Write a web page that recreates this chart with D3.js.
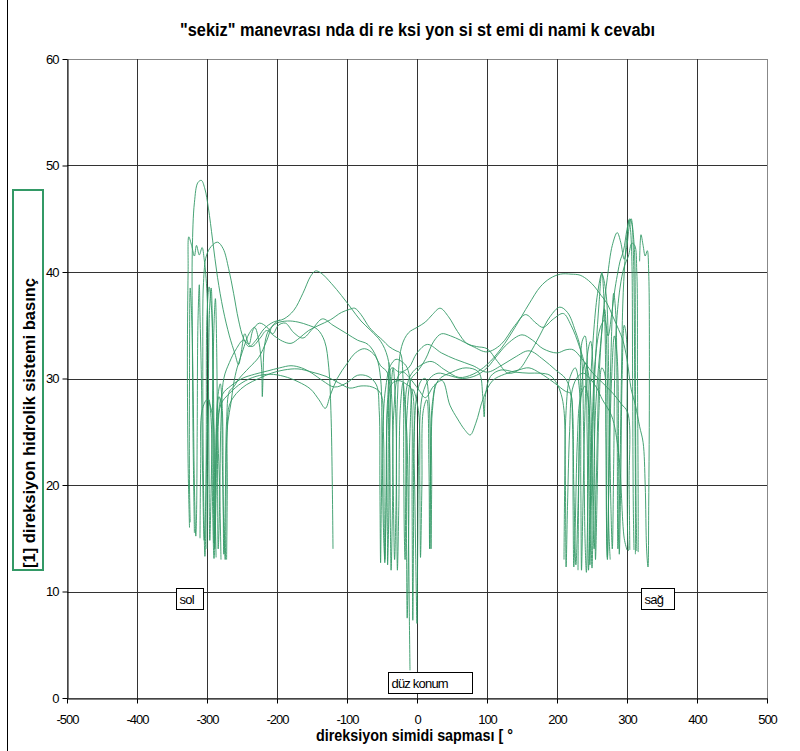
<!DOCTYPE html>
<html>
<head>
<meta charset="utf-8">
<script src="https://cdn.jsdelivr.net/npm/d3@7"></script>
<style>
  body { margin: 0; background: #fff; }
  svg { display: block; font-family: "Liberation Sans", Arial, sans-serif; }
  .tick text { font-size: 13px; letter-spacing: -1px; fill: #000; }
  .run { fill: none; stroke: #339966; stroke-width: 1; stroke-opacity: 0.9; }
</style>
</head>
<body>
<svg width="800" height="751"></svg>
<script>
// tick labels
const xTicks = [-500, -400, -300, -200, -100, 0, 100, 200, 300, 400, 500];
const yTicks = [0, 10, 20, 30, 40, 50, 60];

// measured runs: [steering angle, pressure]
const run1 = [[-318,15.5],[-320,25],[-321,35],[-321,42],[-318,46.5],[-313,48.4],[-308,48.6],[-303,47.8],[-298,46],[-292,43],[-285,39.5],[-277,36.5],[-268,34],[-260,32.3],[-255,31.3],[-251,32.5],[-246,34.2],[-240,33.2],[-234,34.6],[-225,35.2],[-214,34.8],[-206,34.2],[-198,35],[-188,35.2],[-176,34.3],[-163,33.8],[-150,34.6],[-135,35.6],[-120,35],[-100,34.2],[-85,33.6],[-70,33.2],[-58,32],[-52,30],[-50,24],[-48,16],[-46,13],[-44,20],[-42,28],[-36,31],[-25,30.6],[-12,31],[0,32.4],[15,33.2],[35,32.4],[55,31.8],[80,31.2],[100,30.6],[120,31.2],[140,32],[160,32.6],[180,31.8],[198,30.8],[212,30],[220,28.5],[224,20],[227,12.5],[230,18],[234,28],[240,31.5],[246,30],[250,22],[253,14],[256,20],[260,30],[266,36],[272,39.5],[279,42.5],[286,43.7],[291,42.8],[296,41.2],[300,42.5],[303,44.2],[306,45],[309,43.5],[311,41.5],[312,30],[313,18],[314,13.8]];
const run2 = [[-287,13.2],[-289,20],[-291,30],[-293,36],[-297,38.6],[-300,36],[-301,25],[-302,15],[-303,13.3],[-305,20],[-306,32],[-305,39],[-301,41.5],[-294,42.4],[-285,42.8],[-277,42.2],[-269,40.3],[-262,38],[-255,35.5],[-248,33.8],[-240,33],[-230,33.6],[-218,34.7],[-205,35.3],[-190,35.6],[-176,36.4],[-163,38],[-152,39.6],[-145,40.1],[-137,39.9],[-122,38.9],[-108,37.8],[-94,36.6],[-80,35.4],[-66,34.5],[-52,33.5],[-42,32],[-36,28],[-34,20],[-32,13],[-30,18],[-28,28],[-22,33],[-12,34.3],[0,34.8],[12,35.3],[22,36],[33,36.6],[45,35.8],[58,34.4],[71,33.3],[85,33],[100,32.8],[115,31.6],[130,30.5],[145,30.8],[160,32.2],[175,34],[190,35.8],[204,36.7],[215,36.2],[226,34.5],[234,32.6],[238,25],[240,15],[242,11.8],[244,18],[247,28],[252,34],[258,38],[264,39.8],[270,38],[274,30],[277,18],[279,14],[281,22],[284,34],[290,38.5],[296,40.5],[302,41.5],[307,42.7],[311,42.5],[314,40],[315,30],[316,18],[316,13.7]];
const run3 = [[-10,2.6],[-11,8],[-12,15],[-14,24],[-16,28.5],[-10,30.2],[0,31],[20,31.6],[40,30.8],[60,30.1],[80,30.4],[100,31.3],[120,32.8],[140,34.8],[160,37],[176,38.6],[190,39.4],[205,39.8],[220,39.8],[233,39.7],[245,39.2],[254,38.6],[263,37.8],[271,37.1],[280,35.8],[288,34.6],[294,33.6],[300,31.8],[306,29],[312,27.5],[318,25.5],[323,24],[326,20],[328,14],[330,12.3],[331,18],[332,30],[331,40],[329,42],[326,41.5],[323,42.5],[320,43.5],[318,41]];
const run4 = [[-272,13],[-271,20],[-271,25.5],[-268,27.5],[-258,28.6],[-244,29.4],[-226,30],[-208,30.5],[-190,30.8],[-170,30.9],[-150,30.6],[-130,30.2],[-112,29.6],[-96,29.1],[-80,29.3],[-64,29.2],[-52,28.6],[-48,25],[-47,18],[-46,12.7],[-44,18],[-42,27],[-36,29.5],[-26,29.8],[-16,29.5],[-8,29],[-4,22],[-2,14],[0,7],[1,14],[3,24],[8,28.5],[18,30],[30,30.5],[45,30.3],[65,30],[85,30.3],[100,31],[115,32.2],[130,33.3],[150,34.1],[165,33.6],[180,32.8],[200,32.4],[213,32.7],[223,32.7],[235,31.9],[250,30.6],[265,29.6],[280,28.6],[292,27.6],[301,26.8],[303,20],[304,13.9]];
const run5 = [[-280,13],[-282,20],[-284,25.5],[-280,27.6],[-268,28.6],[-250,29.6],[-230,30.2],[-210,30.4],[-190,30.2],[-170,29.7],[-152,29],[-140,28],[-131,27.2],[-124,28.4],[-114,30],[-100,31.4],[-88,32.4],[-75,32.8],[-62,32.3],[-52,31.2],[-42,30.5],[-39,24],[-38,16],[-37,12],[-35,18],[-33,27],[-27,30.2],[-20,30.6],[-10,30],[2,29],[12,28.2],[24,29.3],[36,29.8],[47,27.5],[58,26.2],[68,25.2],[76,24.7],[84,25.8],[95,28.2],[108,29.8],[125,30.4],[145,30.8],[160,31],[176,30.5],[196,29.6],[212,28.8],[219,28.6],[222,26],[223,18],[224,12.3],[226,16],[229,24],[233,28],[240,29.3],[246,27],[248,18],[250,12.2],[252,18],[255,27],[262,33],[268,36.5],[272,30],[274,16],[276,13]];
const run6 = [[-325,16],[-327,22],[-328,32],[-327,40],[-326,43.3],[-322,42.5],[-318,41.5],[-315,42.5],[-311,41.6],[-307,42.3],[-304,41.2],[-300,38],[-298,30],[-297,20],[-296,14.8],[-294,20],[-292,28],[-290,35],[-288,37.5],[-286,32],[-285,22],[-284,14],[-282,18],[-280,26],[-276,30],[-268,31.5],[-258,32.8],[-248,33.6],[-236,33],[-224,33.8],[-215,34.5],[-204,34],[-192,33.5],[-180,33.3],[-168,33.8],[-155,34.5],[-140,35],[-124,35.5],[-108,36.2],[-96,36.5],[-89,36.6],[-80,36],[-68,34.8],[-56,34],[-49,33.6],[-40,33],[-30,32.6],[-24,32.4],[-20,30],[-19,22],[-18,15],[-17,13],[-16,20],[-14,27],[-8,30],[0,30.6],[12,31.8],[24,33.5],[35,34.2],[48,34],[62,33.6],[80,33],[100,32.5],[120,33.2],[140,35],[155,36],[170,35.2],[180,34.8],[195,35.6],[209,36.1],[220,35],[232,33],[240,31],[243,25],[244,16],[245,12],[247,16],[250,25],[255,32],[262,34.8],[268,35.5],[273,34],[278,36],[283,38.5],[287,40],[290,41],[295,42],[300,44],[304,45],[307,44.5],[309,42],[310,39],[311,30],[312,20],[312,13.5]];
const run7 = [[-120,14],[-121,20],[-123,27],[-126,31],[-132,33.5],[-142,34.6],[-155,35],[-170,35.3],[-185,35.4],[-200,35.2],[-212,34.5],[-218,33],[-220,30],[-221,28.3],[-222,31],[-226,33.5],[-232,34.8],[-240,34.2],[-247,33],[-252,32],[-257,31],[-262,29.5],[-266,27.6],[-270,26],[-272,24],[-273,18],[-274,13],[-276,16],[-278,22],[-280,27.6],[-283,28.3],[-286,26],[-288,20],[-289,14],[-290,13.1],[-292,18],[-294,26],[-297,28],[-300,24],[-302,18],[-304,14.8],[-306,20],[-308,30],[-310,36],[-311,38.8],[-313,35],[-314,25],[-315,17],[-316,15.2],[-318,20],[-320,30],[-322,36],[-324,38.5],[-325,30],[-325,20],[-324,16.5]];
const run8 = [[-310,15],[-309,22],[-307,27],[-300,28],[-292,26.5],[-290,20],[-289,14],[-287,19],[-285,25.5],[-278,28.5],[-266,29.3],[-250,30],[-232,30.4],[-214,30.7],[-196,31],[-180,31.2],[-165,31],[-150,30.5],[-135,29.8],[-118,29.2],[-100,29.6],[-85,30.3],[-70,30.2],[-58,29.4],[-54,27],[-53,20],[-52,12.7],[-51,18],[-49,25],[-45,29],[-38,31.2],[-30,31.8],[-22,31.6],[-14,31],[-8,28],[-7,18],[-6,7.3],[-5,15],[-4,25],[0,28.5],[6,29.8],[12,30],[17,28],[19,22],[20,14],[21,20],[22,27],[30,29.8],[50,30.6],[70,31],[88,30.6],[94,28.3],[96,26.4],[98,28.5],[105,30.2],[120,30.8],[140,30.6],[160,30.5],[176,30.5],[190,30.3],[200,29.5],[206,28.5],[210,27],[212,20],[213,12.3],[215,18],[218,25],[222,29],[230,30.2],[238,30.5],[247,30],[256,29.2],[265,28],[278,26.5],[288,23],[296,15],[300,13.9]];
const run9 = [[230,12],[231,20],[233,28],[236,33.5],[240,34],[244,30],[246,20],[247,12.5],[249,18],[252,27],[256,33],[260,37],[264,40],[268,36],[270,25],[271,15],[272,13.2],[274,20],[277,32],[281,38],[284,36],[286,25],[287,14],[289,18],[292,30],[294,37],[297,41],[300,43.5],[303,44.9],[305,44],[307,41],[308,30],[309,18],[310,13.9]];
const run10 = [[-300,14],[-299,22],[-298,30],[-296,37],[-294,38.5],[-292,33],[-291,22],[-290,14.5],[-288,20],[-285,28],[-281,29.5],[-278,27],[-277,20],[-276,13.5],[-274,18],[-272,26],[-268,28.8],[-262,29.2],[-254,30],[-240,31],[-226,32],[-215,33.5],[-206,35],[-196,35.5]];
const run11 = [[210,13],[211,20],[213,27],[218,30],[226,31],[232,29],[234,20],[235,12],[237,18],[240,27],[244,32.5],[248,33.5],[252,30],[254,20],[255,13],[257,18],[260,27],[264,31],[268,30.5],[270,25],[271,15],[272,13],[274,20],[278,30],[282,34],[286,32],[288,22],[289,13.5],[291,20],[293,30],[296,35],[299,34],[300,25],[301,15],[302,13.8]];
const run12 = [[-40,31.5],[-41,24],[-42,12.5],[-40,18],[-38,28],[-34,31],[-30,26],[-29,18],[-28,12],[-26,18],[-24,27],[-20,29.6],[-16,25],[-15,15],[-14,7.5],[-12,15],[-10,25],[-6,29],[2,27],[4,20],[5,13.2],[7,20],[9,27],[14,28],[17,22],[18,14],[19,20],[21,27],[26,29.5]];

const runs = [run1, run2, run3, run4, run5, run6, run7, run8, run9, run10, run11, run12];

// text boxes on the plot
const notes = [
  { label: "sol", x: -344, y: 10.3, w: 27 },
  { label: "sağ", x: 320, y: 10.3, w: 33 },
  { label: "düz konum", x: -41, y: 2.4, w: 84 }
];

const margin = { top: 59, right: 33, bottom: 53, left: 67 },
  width = 800 - margin.left - margin.right,
  height = 751 - margin.top - margin.bottom;

const root = d3.select("svg");

// outer chart frame
root.append("rect")
  .attr("x", 7.5).attr("y", -5)
  .attr("width", 810).attr("height", 770)
  .attr("fill", "none").attr("stroke", "#000");

const svg = root.append("g")
  .attr("transform", `translate(${margin.left},${margin.top})`);

const x = d3.scaleLinear().domain([-500, 500]).range([0, width]);
const y = d3.scaleLinear().domain([0, 60]).range([height, 0]);

// plot frame (top/right grey)
svg.append("rect")
  .attr("x", 0.5).attr("y", 0.5)
  .attr("width", width).attr("height", height)
  .attr("fill", "none").attr("stroke", "#888");

// grid
svg.append("g")
  .selectAll("line")
  .data(xTicks.slice(1, -1))
  .join("line")
  .attr("x1", (d) => Math.round(x(d)) + 0.5)
  .attr("x2", (d) => Math.round(x(d)) + 0.5)
  .attr("y1", 0).attr("y2", height)
  .attr("stroke", "#333");

svg.append("g")
  .selectAll("line")
  .data(yTicks.slice(1, -1))
  .join("line")
  .attr("y1", (d) => Math.round(y(d)) + 0.5)
  .attr("y2", (d) => Math.round(y(d)) + 0.5)
  .attr("x1", 0).attr("x2", width)
  .attr("stroke", "#333");

// data lines
const line = d3.line()
  .x((d) => x(d[0]))
  .y((d) => y(d[1]))
  .curve(d3.curveCatmullRom.alpha(0.5));

svg.append("g")
  .selectAll("path")
  .data(runs)
  .join("path")
  .attr("class", "run")
  .attr("d", line);

// axes (plain hyphen for negatives, like the original)
const xAxis = svg.append("g")
  .attr("transform", `translate(0,${height + 0.5})`)
  .call(d3.axisBottom(x).tickValues(xTicks).tickFormat((d) => String(d))
    .tickSize(5).tickSizeOuter(0).tickPadding(11));
const yAxis = svg.append("g")
  .attr("transform", "translate(0.5,0)")
  .call(d3.axisLeft(y).tickValues(yTicks).tickFormat((d) => String(d))
    .tickSize(5).tickSizeOuter(0).tickPadding(4));
[xAxis, yAxis].forEach((a) => {
  a.select(".domain").attr("stroke", "#000");
  a.selectAll(".tick line").attr("stroke", "#000");
  a.selectAll(".tick text").attr("font-family", "Liberation Sans, Arial, sans-serif");
});

// annotation boxes
const note = svg.append("g")
  .selectAll("g")
  .data(notes)
  .join("g")
  .attr("transform", (d) => `translate(${Math.round(x(d.x)) + 0.5},${Math.round(y(d.y)) + 0.5})`);
note.append("rect")
  .attr("width", (d) => d.w).attr("height", 21)
  .attr("fill", "#fff").attr("stroke", "#000");
note.append("text")
  .attr("x", 3).attr("y", 15)
  .attr("font-size", 13).attr("letter-spacing", -0.8)
  .text((d) => d.label);

// title
root.append("text")
  .attr("x", 180).attr("y", 36)
  .attr("font-size", 18).attr("font-weight", "bold")
  .attr("textLength", 475).attr("lengthAdjust", "spacingAndGlyphs")
  .text('"sekiz" manevrası nda di re ksi yon si st emi di nami k cevabı');

// x axis title
root.append("text")
  .attr("x", 316).attr("y", 741)
  .attr("font-size", 16).attr("font-weight", "bold")
  .attr("textLength", 197).attr("lengthAdjust", "spacingAndGlyphs")
  .text("direksiyon simidi sapması [ °");

// y axis title in a green box
root.append("rect")
  .attr("x", 13).attr("y", 190)
  .attr("width", 30).attr("height", 380)
  .attr("fill", "#fff").attr("stroke", "#339966").attr("stroke-width", 2);
root.append("text")
  .attr("transform", "translate(35,568) rotate(-90)")
  .attr("font-size", 16).attr("font-weight", "bold")
  .attr("textLength", 290).attr("lengthAdjust", "spacingAndGlyphs")
  .text("[1] direksiyon hidrolik sistemi basınç");
</script>
</body>
</html>
